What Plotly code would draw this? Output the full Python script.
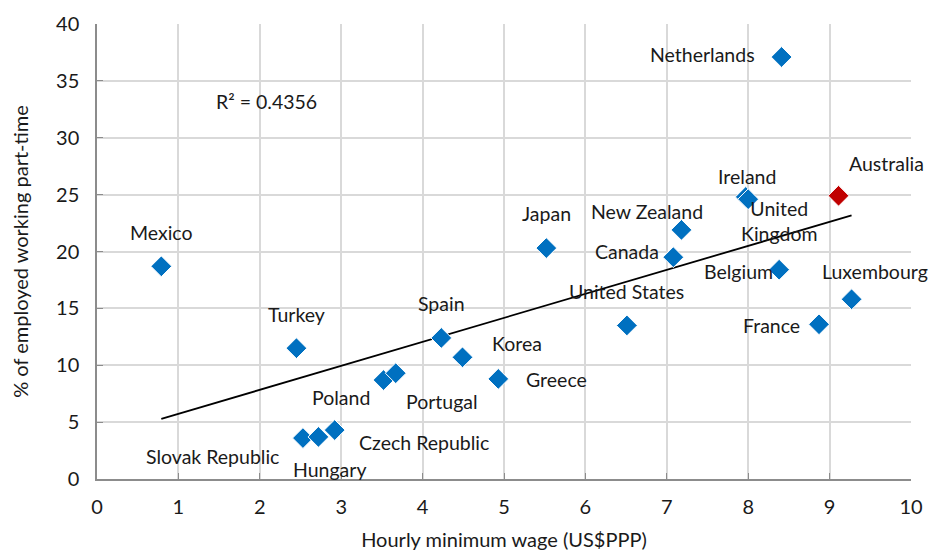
import numpy as np
import plotly.graph_objects as go

countries = ["Mexico", "Turkey", "Slovak Republic", "Hungary", "Czech Republic", "Poland",
             "Portugal", "Spain", "Korea", "Greece", "Japan", "United States", "Canada",
             "New Zealand", "United Kingdom", "Ireland", "Netherlands", "Belgium",
             "France", "Luxembourg"]
wage = [0.79, 2.45, 2.53, 2.72, 2.92, 3.52, 3.67, 4.23, 4.49, 4.93, 5.52, 6.51, 7.08,
        7.18, 7.97, 8.0, 8.41, 8.38, 8.87, 9.27]
parttime = [18.7, 11.5, 3.6, 3.7, 4.3, 8.7, 9.3, 12.4, 10.7, 8.8, 20.3, 13.5, 19.5,
            21.9, 24.8, 24.6, 37.1, 18.4, 13.6, 15.8]

aus_name = "Australia"
aus_wage = [9.11]
aus_parttime = [24.9]

# label offsets (pixels) relative to each point
label_offsets = {
    "Mexico": (0, -34), "Turkey": (0, -34), "Slovak Republic": (-90, 18),
    "Hungary": (11, 33), "Czech Republic": (89, 12), "Poland": (-43, 17),
    "Portugal": (46, 28), "Spain": (0, -34), "Korea": (55, -14), "Greece": (58, 1),
    "Japan": (0, -35), "United States": (0, -34), "Canada": (-46, -6),
    "New Zealand": (-34, -18), "United Kingdom": (34, 24), "Ireland": (-1, -23),
    "Netherlands": (-79, -2), "Belgium": (-41, 2), "France": (-48, 1),
    "Luxembourg": (23, -28),
}

all_x = np.array(wage + aus_wage)
all_y = np.array(parttime + aus_parttime)
slope, intercept = np.polyfit(all_x, all_y, 1)
xl = np.array([all_x.min(), all_x.max()])
yl = slope * xl + intercept

FAM = "Lato"
fig = go.Figure()
fig.add_trace(go.Scatter(x=xl, y=yl, mode="lines", line=dict(color="black", width=1.8),
                         hoverinfo="skip", showlegend=False))
fig.add_trace(go.Scatter(x=wage, y=parttime, mode="markers", text=countries,
                         marker=dict(symbol="diamond", size=16, color="#0070C0",
                                     line=dict(color="white", width=1)),
                         showlegend=False))
fig.add_trace(go.Scatter(x=aus_wage, y=aus_parttime, mode="markers", text=[aus_name],
                         marker=dict(symbol="diamond", size=16, color="#C00000",
                                     line=dict(color="white", width=1)),
                         showlegend=False))

font = dict(family=FAM, size=19.5, color="#1a1a1a")
for c, x, y in zip(countries, wage, parttime):
    dx, dy = label_offsets[c]
    txt = "United<br>Kingdom" if c == "United Kingdom" else c
    fig.add_annotation(x=x, y=y, text=txt, showarrow=False, xshift=dx, yshift=-dy,
                       font=font, xanchor="center", yanchor="middle")
fig.add_annotation(x=aus_wage[0], y=aus_parttime[0], text=aus_name, showarrow=False,
                   xshift=48, yshift=32, font=font)
fig.add_annotation(x=2.08, y=33.2, text="R² = 0.4356", showarrow=False, font=font)

fig.update_layout(
    width=942, height=551,
    margin=dict(l=89, r=39, t=16, b=80),
    plot_bgcolor="white", paper_bgcolor="white",
    font=dict(family=FAM, size=18, color="#1a1a1a"),
)
fig.update_xaxes(range=[0, 10], dtick=1, showgrid=True, gridcolor="#d9d9d9", gridwidth=1.5,
                 showline=True, linecolor="#8c8c8c", linewidth=1.5, ticks="inside",
                 ticklen=6, tickcolor="#8c8c8c", zeroline=False, mirror=False, automargin=False,
                 ticklabelstandoff=9,
                 title=dict(text="Hourly minimum wage (US$PPP)", font=dict(size=20), standoff=16),
                 tickfont=dict(size=20))
fig.update_yaxes(range=[0, 40], dtick=5, showgrid=True, gridcolor="#d9d9d9", gridwidth=1.5,
                 showline=True, linecolor="#8c8c8c", linewidth=1.5, ticks="inside",
                 ticklen=6, tickcolor="#8c8c8c", zeroline=False, automargin=False,
                 ticklabelstandoff=12,
                 title=dict(text="% of employed working part-time", font=dict(size=20), standoff=22),
                 tickfont=dict(size=20))

fig.write_html("out.html")
